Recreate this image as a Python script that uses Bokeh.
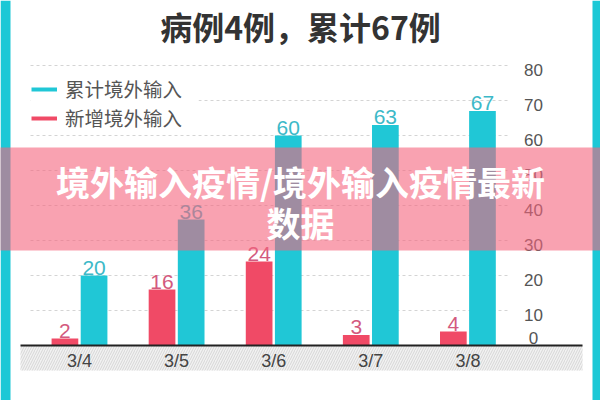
from bokeh.plotting import figure
from bokeh.models import Range1d, ColumnDataSource, Legend, LegendItem
from bokeh.core.properties import value
from bokeh.embed import file_html
from bokeh.resources import INLINE

# ---- data ----
dates = ["3/4", "3/5", "3/6", "3/7", "3/8"]
cumulative = [20, 36, 60, 63, 67]
new_cases = [2, 16, 24, 3, 4]
y_ticks = [0, 10, 20, 30, 40, 50, 60, 70, 80]
legend_labels = ["累计境外输入", "新增境外输入"]
title_text = "病例4例，累计67例"
overlay_lines = ["境外输入疫情/境外输入疫情最新", "数据"]

# ---- style ----
FONT = "Noto Sans CJK SC"
NUM_FONT = "Liberation Sans"
CYAN = "#20c7d6"
RED = "#f04a66"
CYAN_TXT = "#3cb9c8"
RED_TXT = "#d35a7e"

# pixel -> data helpers (layout of the picture)
X0, XSTEP = 79.0, 97.1
Y0, YSCALE = 345.0, 3.5


def px_x(px):
    return (px - X0) / XSTEP


def px_y(py):
    return (Y0 - py) / YSCALE


p = figure(width=600, height=400, output_backend="svg", toolbar_location=None,
           x_range=Range1d(px_x(0), px_x(600)), y_range=Range1d(px_y(400), px_y(0)),
           x_axis_location=None, y_axis_location=None, min_border=0,
           background_fill_color="white", border_fill_color="white",
           outline_line_color=None)
p.grid.visible = False

# hatched band under the axis
p.quad(left=[px_x(20)], right=[px_x(582)], top=[0], bottom=[px_y(370)],
       fill_color="#f2f2f2", line_color=None, hatch_pattern="/",
       hatch_color="#d6d6d6", hatch_scale=5, hatch_weight=1)

# dashed gridlines
grid_vals = [t for t in y_ticks if t > 0]
p.segment(x0=[px_x(30)] * len(grid_vals), x1=[px_x(510)] * len(grid_vals),
          y0=grid_vals, y1=grid_vals, line_color="#d4d4d4", line_width=1,
          line_dash="3 3")

# white legend backdrop
p.quad(left=[px_x(30)], right=[px_x(198)], top=[px_y(72)], bottom=[px_y(130)],
       fill_color="white", line_color=None)

idx = list(range(len(dates)))
src = ColumnDataSource(dict(
    xr=[i - 0.15 for i in idx], xc=[i + 0.15 for i in idx],
    new=new_cases, cum=cumulative,
    new_t=[str(v) for v in new_cases], cum_t=[str(v) for v in cumulative],
))

p.vbar(x="xr", top="new", width=0.275, source=src, fill_color=RED, line_color=None)
p.vbar(x="xc", top="cum", width=0.275, source=src, fill_color=CYAN, line_color=None)

p.text(x="xr", y="new", text="new_t", source=src, text_align="center",
       text_baseline="bottom", y_offset=-1, text_font=value(NUM_FONT),
       text_font_size="21px", text_color=RED_TXT)
p.text(x="xc", y="cum", text="cum_t", source=src, text_align="center",
       text_baseline="bottom", y_offset=-1, text_font=value(NUM_FONT),
       text_font_size="21px", text_color=CYAN_TXT)

# axis baseline
p.segment(x0=[px_x(20)], x1=[px_x(582)], y0=[0], y1=[0], line_color="#222222",
          line_width=2)

# category labels
p.text(x=idx, y=[px_y(360)] * len(idx), text=dates, text_align="center",
       text_baseline="middle", text_font=value(NUM_FONT), text_font_size="18px",
       text_color="#444444")

# value-axis labels on the right
p.text(x=[px_x(533)] * len(y_ticks), y=y_ticks, text=[str(t) for t in y_ticks],
       y_offset=[-8 if t == 0 else 4 for t in y_ticks],
       text_align="center", text_baseline="middle", text_font=value(NUM_FONT),
       text_font_size="17px", text_color="#555555")

# title
p.text(x=[px_x(300)], y=[px_y(25)], text=[title_text], text_align="center",
       text_baseline="middle", text_font=value(FONT), text_font_size="32px",
       text_font_style="bold", text_color="#333333")

# legend (renderers hold points far outside the view)
r1 = p.line(x=[-50, -49], y=[-500, -500], line_color=CYAN, line_width=4)
r2 = p.line(x=[-50, -49], y=[-500, -500], line_color=RED, line_width=4)
legend = Legend(items=[LegendItem(label=legend_labels[0], renderers=[r1]),
                       LegendItem(label=legend_labels[1], renderers=[r2])],
                location=(31, 268), margin=0, padding=4, spacing=0,
                glyph_width=26, glyph_height=20, label_height=20,
                label_standoff=8, label_text_font=FONT,
                label_text_font_size="19.5px", label_text_color="#555555",
                background_fill_color="white", background_fill_alpha=1.0,
                border_line_color=None)
p.add_layout(legend)

# side borders
p.quad(left=[px_x(0), px_x(592)], right=[px_x(10), px_x(600)],
       bottom=[px_y(400)] * 2, top=[px_y(0)] * 2, fill_color="#1cc8d6",
       line_color=None)

# pink overlay band with text
p.quad(left=[px_x(-5)], right=[px_x(605)], top=[px_y(147)], bottom=[px_y(250)],
       fill_color=(245, 100, 125), fill_alpha=0.6, line_color=None)
p.text(x=[px_x(300)] * 2, y=[px_y(181), px_y(222)], text=overlay_lines,
       text_align="center", text_baseline="middle", text_font=value(FONT),
       text_font_size="34px", text_font_style="bold", text_color="white")

open("out.html", "w").write(file_html(p, INLINE))
